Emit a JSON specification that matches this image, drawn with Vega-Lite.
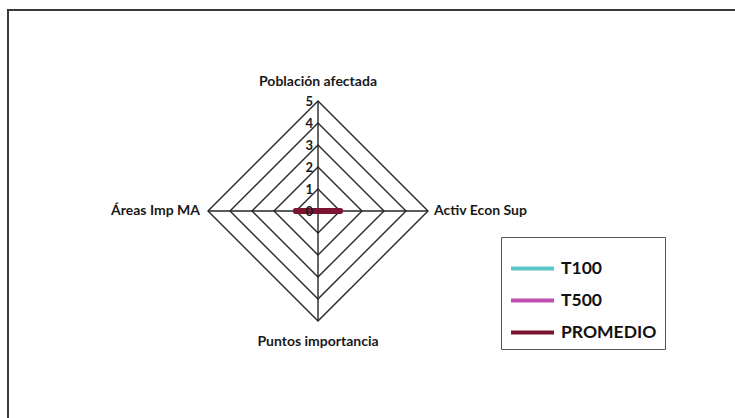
{
  "$schema": "https://vega.github.io/schema/vega-lite/v6.json",
  "width": 728,
  "height": 409,
  "autosize": "none",
  "padding": {"left": 8, "top": 10, "right": 0, "bottom": 0},
  "background": "white",
  "config": {
    "view": {"stroke": "#3a3a3a", "strokeWidth": 2},
    "text": {"font": "Lato", "fontWeight": "bold", "fill": "#1a1a1a"}
  },
  "data": {
    "values": [
      {"kind": "ring", "level": 1, "axis": "Población afectada", "value": 1},
      {"kind": "ring", "level": 1, "axis": "Activ Econ Sup", "value": 1},
      {"kind": "ring", "level": 1, "axis": "Puntos importancia", "value": 1},
      {"kind": "ring", "level": 1, "axis": "Áreas Imp MA", "value": 1},
      {"kind": "ring", "level": 2, "axis": "Población afectada", "value": 2},
      {"kind": "ring", "level": 2, "axis": "Activ Econ Sup", "value": 2},
      {"kind": "ring", "level": 2, "axis": "Puntos importancia", "value": 2},
      {"kind": "ring", "level": 2, "axis": "Áreas Imp MA", "value": 2},
      {"kind": "ring", "level": 3, "axis": "Población afectada", "value": 3},
      {"kind": "ring", "level": 3, "axis": "Activ Econ Sup", "value": 3},
      {"kind": "ring", "level": 3, "axis": "Puntos importancia", "value": 3},
      {"kind": "ring", "level": 3, "axis": "Áreas Imp MA", "value": 3},
      {"kind": "ring", "level": 4, "axis": "Población afectada", "value": 4},
      {"kind": "ring", "level": 4, "axis": "Activ Econ Sup", "value": 4},
      {"kind": "ring", "level": 4, "axis": "Puntos importancia", "value": 4},
      {"kind": "ring", "level": 4, "axis": "Áreas Imp MA", "value": 4},
      {"kind": "ring", "level": 5, "axis": "Población afectada", "value": 5},
      {"kind": "ring", "level": 5, "axis": "Activ Econ Sup", "value": 5},
      {"kind": "ring", "level": 5, "axis": "Puntos importancia", "value": 5},
      {"kind": "ring", "level": 5, "axis": "Áreas Imp MA", "value": 5},
      {"kind": "spoke", "axis": "Población afectada", "value": 5},
      {"kind": "spoke", "axis": "Activ Econ Sup", "value": 5},
      {"kind": "spoke", "axis": "Puntos importancia", "value": 5},
      {"kind": "spoke", "axis": "Áreas Imp MA", "value": 5},
      {"kind": "series", "series": "T100", "axis": "Población afectada", "value": 0},
      {"kind": "series", "series": "T100", "axis": "Activ Econ Sup", "value": 1},
      {"kind": "series", "series": "T100", "axis": "Puntos importancia", "value": 0},
      {"kind": "series", "series": "T100", "axis": "Áreas Imp MA", "value": 1},
      {"kind": "series", "series": "T500", "axis": "Población afectada", "value": 0},
      {"kind": "series", "series": "T500", "axis": "Activ Econ Sup", "value": 1},
      {"kind": "series", "series": "T500", "axis": "Puntos importancia", "value": 0},
      {"kind": "series", "series": "T500", "axis": "Áreas Imp MA", "value": 1},
      {"kind": "series", "series": "PROMEDIO", "axis": "Población afectada", "value": 0},
      {"kind": "series", "series": "PROMEDIO", "axis": "Activ Econ Sup", "value": 1},
      {"kind": "series", "series": "PROMEDIO", "axis": "Puntos importancia", "value": 0},
      {"kind": "series", "series": "PROMEDIO", "axis": "Áreas Imp MA", "value": 1},
      {"kind": "tick", "axis": "Población afectada", "value": 0},
      {"kind": "tick", "axis": "Población afectada", "value": 1},
      {"kind": "tick", "axis": "Población afectada", "value": 2},
      {"kind": "tick", "axis": "Población afectada", "value": 3},
      {"kind": "tick", "axis": "Población afectada", "value": 4},
      {"kind": "tick", "axis": "Población afectada", "value": 5},
      {"kind": "label", "axis": "Población afectada", "value": 5},
      {"kind": "label", "axis": "Activ Econ Sup", "value": 5},
      {"kind": "label", "axis": "Puntos importancia", "value": 5},
      {"kind": "label", "axis": "Áreas Imp MA", "value": 5}
    ]
  },
  "transform": [
    {"calculate": "indexof(['Población afectada','Activ Econ Sup','Puntos importancia','Áreas Imp MA'], datum.axis)", "as": "k"},
    {"calculate": "datum.value*sin(datum.k*PI/2)", "as": "px"},
    {"calculate": "datum.value*cos(datum.k*PI/2)", "as": "py"}
  ],
  "encoding": {
    "x": {"field": "px", "type": "quantitative", "scale": {"domain": [-14.0909, 19.0], "nice": false, "zero": false}, "axis": null},
    "y": {"field": "py", "type": "quantitative", "scale": {"domain": [-9.4545, 9.1364], "nice": false, "zero": false}, "axis": null}
  },
  "layer": [
    {
      "transform": [{"filter": "datum.kind == 'ring'"}],
      "mark": {"type": "line", "interpolate": "linear-closed", "stroke": "#262626", "strokeWidth": 1.4},
      "encoding": {"detail": {"field": "level", "type": "nominal"}, "order": {"field": "k", "type": "quantitative"}}
    },
    {
      "transform": [{"filter": "datum.kind == 'spoke'"}],
      "mark": {"type": "rule", "stroke": "#262626", "strokeWidth": 1.4},
      "encoding": {"x2": {"datum": 0}, "y2": {"datum": 0}}
    },
    {
      "transform": [{"filter": "datum.kind == 'series'"}],
      "mark": {"type": "line", "interpolate": "linear-closed", "strokeWidth": 6, "strokeJoin": "round", "strokeCap": "round"},
      "encoding": {
        "order": {"field": "k", "type": "quantitative"},
        "color": {
          "field": "series", "type": "nominal",
          "scale": {"domain": ["T100", "T500", "PROMEDIO"], "range": ["#5cc6c8", "#c04fb0", "#7a1430"]},
          "legend": {
            "orient": "none", "legendX": 493, "legendY": 227, "title": null,
            "symbolType": "stroke", "symbolSize": 1849, "symbolStrokeWidth": 4,
            "labelFont": "Lato", "labelFontWeight": "bold", "labelFontSize": 17.5, "labelColor": "#111111",
            "labelOffset": 5, "rowPadding": 0, "padding": 8,
            "strokeColor": "#555555", "fillColor": "white"
          }
        }
      }
    },
    {
      "transform": [{"filter": "datum.kind == 'tick'"}],
      "mark": {"type": "text", "align": "right", "baseline": "middle", "dx": -5, "dy": 1, "fontSize": 13},
      "encoding": {"text": {"field": "value", "type": "quantitative"}}
    },
    {
      "transform": [{"filter": "datum.kind == 'label' && datum.axis == 'Población afectada'"}],
      "mark": {"type": "text", "align": "center", "baseline": "middle", "dy": -19, "fontSize": 14},
      "encoding": {"text": {"field": "axis"}}
    },
    {
      "transform": [{"filter": "datum.kind == 'label' && datum.axis == 'Puntos importancia'"}],
      "mark": {"type": "text", "align": "center", "baseline": "middle", "dy": 21, "fontSize": 14},
      "encoding": {"text": {"field": "axis"}}
    },
    {
      "transform": [{"filter": "datum.kind == 'label' && datum.axis == 'Activ Econ Sup'"}],
      "mark": {"type": "text", "align": "left", "baseline": "middle", "dx": 6, "fontSize": 14},
      "encoding": {"text": {"field": "axis"}}
    },
    {
      "transform": [{"filter": "datum.kind == 'label' && datum.axis == 'Áreas Imp MA'"}],
      "mark": {"type": "text", "align": "right", "baseline": "middle", "dx": -8, "fontSize": 14},
      "encoding": {"text": {"field": "axis"}}
    }
  ]
}
